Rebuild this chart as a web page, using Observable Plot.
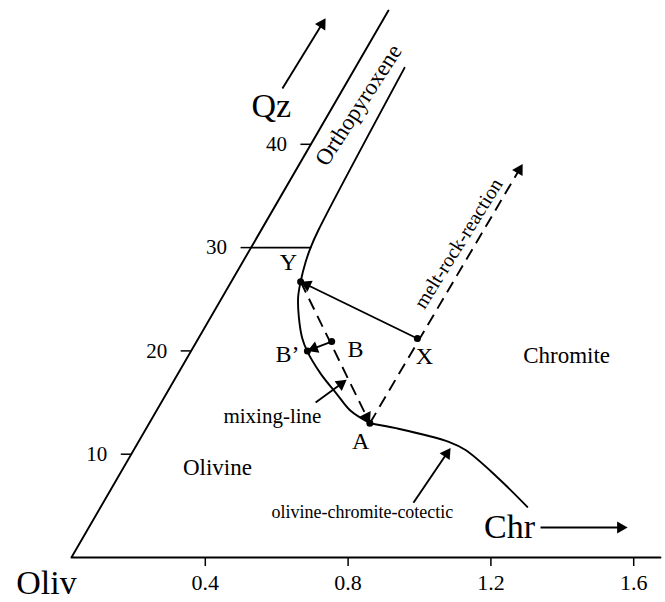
<!DOCTYPE html>
<html><head><meta charset="utf-8">
<script src="https://cdn.jsdelivr.net/npm/d3@7"></script>
<script src="https://cdn.jsdelivr.net/npm/@observablehq/plot@0.6"></script>
<style>html,body{margin:0;padding:0;background:#fff}</style>
</head><body><div id="chart"></div>
<script>
// ---------- data (x = position on the Chr axis, y = Qz) ----------
const xTicks = [0.4, 0.8, 1.2, 1.6];
const qzTicks = [10, 20, 30, 40];

// triangle frame: right end of base, Oliv corner, top of Qz edge
const frameX = [1.675, 0.025, 0.913];
const frameY = [0, 0, 52.95];

// olivine / orthopyroxene boundary at Qz = 30
const oxBoundX = [0.528, 0.695];
const oxBoundY = [30, 30];

// orthopyroxene-olivine cotectic curve (top) down to A
const opxCurveX = [0.958, 0.717, 0.695, 0.681, 0.667, 0.660, 0.662, 0.671, 0.685, 0.723, 0.769, 0.807, 0.861];
const opxCurveY = [47.4, 31.7, 30.0, 28.6, 26.7, 25.2, 23.3, 21.3, 20.0, 17.8, 15.8, 14.2, 13.0];

// olivine-chromite cotectic from A
const cotecX = [0.861, 0.937, 1.082, 1.129, 1.217, 1.302];
const cotecY = [13.0, 12.5, 11.2, 10.4, 7.8, 4.9];

// named points
const ptName = ["Y", "B’", "B", "A", "X"];
const ptX = [0.667, 0.686, 0.754, 0.861, 0.994];
const ptY = [26.7, 20.0, 20.9, 13.0, 21.2];
const ptLabelX = [0.633, 0.630, 0.821, 0.835, 1.014];
const ptLabelY = [28.6, 19.7, 20.2, 11.2, 19.5];

// dashed arrows: mixing line Y -> A, melt-rock-reaction A -> beyond X
const dashFromX = [0.667, 0.861], dashFromY = [26.7, 13.0];
const dashToX = [0.861, 1.289], dashToY = [13.0, 38.1];

// solid arrows: X->Y, B->B', mixing-line pointer, cotectic pointer, Qz, Chr
const arrFromX = [0.994, 0.754, 0.709, 0.983, 0.616, 1.339];
const arrFromY = [21.2, 20.9, 15.0, 5.3, 45.4, 2.9];
const arrToX = [0.667, 0.686, 0.796, 1.087, 0.737, 1.583];
const arrToY = [26.7, 20.0, 17.2, 10.6, 52.2, 2.9];

// field labels
const fieldText = ["Olivine", "Chromite", "mixing-line", "olivine-chromite-cotectic"];
const fieldX = [0.434, 1.412, 0.588, 0.840];
const fieldY = [8.7, 19.5, 13.7, 4.4];

// rotated labels
const slantText = ["Orthopyroxene", "melt-rock-reaction"];
const slantX = [0.829, 1.109];
const slantY = [43.8, 30.4];

// component labels
const compText = ["Oliv", "Qz", "Chr"];
const compX = [-0.045, 0.585, 1.252];
const compY = [-2.5, 43.7, 2.9];

// ---------- layout ----------
const KX = 357, KY = 10.33;        // pixels per data unit
const SERIF = "Liberation Serif, 'Times New Roman', serif";
const HEAD_R = 4.5;                // triangle radius
const TIP = HEAD_R * 1.555;        // centre-to-tip distance of d3 triangle

const idx = n => d3.range(n);
const axX = q => frameX[1] + q * (frameX[2] - frameX[1]) / frameY[2];

function arrow(x1, y1, x2, y2) {
  const dx = (x2 - x1) * KX, dy = -(y2 - y1) * KY, L = Math.hypot(dx, dy);
  const ux = dx / L, uy = dy / L;
  const cx = x2 - ux * TIP / KX, cy = y2 + uy * TIP / KY;
  return {x1, y1, x2: cx, y2: cy, rot: Math.atan2(ux, -uy) * 180 / Math.PI};
}
const solid = idx(arrFromX.length).map(i => arrow(arrFromX[i], arrFromY[i], arrToX[i], arrToY[i]));
const dashed = idx(dashFromX.length).map(i => arrow(dashFromX[i], dashFromY[i], dashToX[i], dashToY[i]));
const heads = solid.concat(dashed);

const plot = Plot.plot({
  width: 665,
  height: 602,
  x: {domain: [0, 1.68], range: [62, 62 + 1.68 * KX], axis: null},
  y: {domain: [0, 53.9], range: [557, 557 - 53.9 * KY], axis: null},
  style: {fontFamily: SERIF, background: "white", color: "black", overflow: "visible"},
  marks: [
    Plot.line(idx(frameX.length), {x: i => frameX[i], y: i => frameY[i], stroke: "black", strokeWidth: 1.9}),
    Plot.line(idx(oxBoundX.length), {x: i => oxBoundX[i], y: i => oxBoundY[i], stroke: "black", strokeWidth: 1.9}),
    Plot.line(idx(opxCurveX.length), {x: i => opxCurveX[i], y: i => opxCurveY[i], stroke: "black", strokeWidth: 1.9, curve: "catmull-rom"}),
    Plot.line(idx(cotecX.length), {x: i => cotecX[i], y: i => cotecY[i], stroke: "black", strokeWidth: 1.9, curve: "catmull-rom"}),
    // x ticks & labels
    Plot.ruleX(xTicks, {x: d => d, y1: 0, y2: -9 / KY, stroke: "black", strokeWidth: 1.5}),
    Plot.text(xTicks, {x: d => d, y: 0, dy: 25, text: d => d.toFixed(1), fontSize: 22, fill: "black"}),
    // Qz ticks & labels on the slanted edge
    Plot.ruleY(qzTicks, {y: d => d, x1: d => axX(d) - 10 / KX, x2: d => axX(d), stroke: "black", strokeWidth: 1.5}),
    Plot.text(qzTicks, {x: d => axX(d), y: d => d, dx: -24, textAnchor: "end", text: String, fontSize: 21, fill: "black"}),
    // dashed lines
    Plot.link(dashed, {x1: "x1", y1: "y1", x2: "x2", y2: "y2", stroke: "black", strokeWidth: 1.9, strokeDasharray: "12,7"}),
    // solid arrows
    Plot.link(solid, {x1: "x1", y1: "y1", x2: "x2", y2: "y2", stroke: "black", strokeWidth: 1.9}),
    Plot.dot(heads, {x: "x2", y: "y2", rotate: "rot", symbol: "triangle", r: HEAD_R, fill: "black", stroke: "none"}),
    // points
    Plot.dot(idx(ptX.length), {x: i => ptX[i], y: i => ptY[i], r: 3.5, fill: "black"}),
    Plot.text(idx(ptName.length), {x: i => ptLabelX[i], y: i => ptLabelY[i], text: i => ptName[i], fontSize: 24, fill: "black"}),
    // labels
    Plot.text(idx(2), {x: i => fieldX[i], y: i => fieldY[i], text: i => fieldText[i], fontSize: 23, fill: "black"}),
    Plot.text([2], {x: i => fieldX[i], y: i => fieldY[i], text: i => fieldText[i], fontSize: 21, fill: "black"}),
    Plot.text([3], {x: i => fieldX[i], y: i => fieldY[i], text: i => fieldText[i], fontSize: 18, fill: "black"}),
    Plot.text([0], {x: i => slantX[i], y: i => slantY[i], text: i => slantText[i], fontSize: 23, rotate: -57, fill: "black"}),
    Plot.text([1], {x: i => slantX[i], y: i => slantY[i], text: i => slantText[i], fontSize: 20, rotate: -58, fill: "black"}),
    Plot.text(idx(compText.length), {x: i => compX[i], y: i => compY[i], text: i => compText[i], fontSize: 34, fill: "black"})
  ]
});
document.getElementById("chart").appendChild(plot);
</script></body></html>
